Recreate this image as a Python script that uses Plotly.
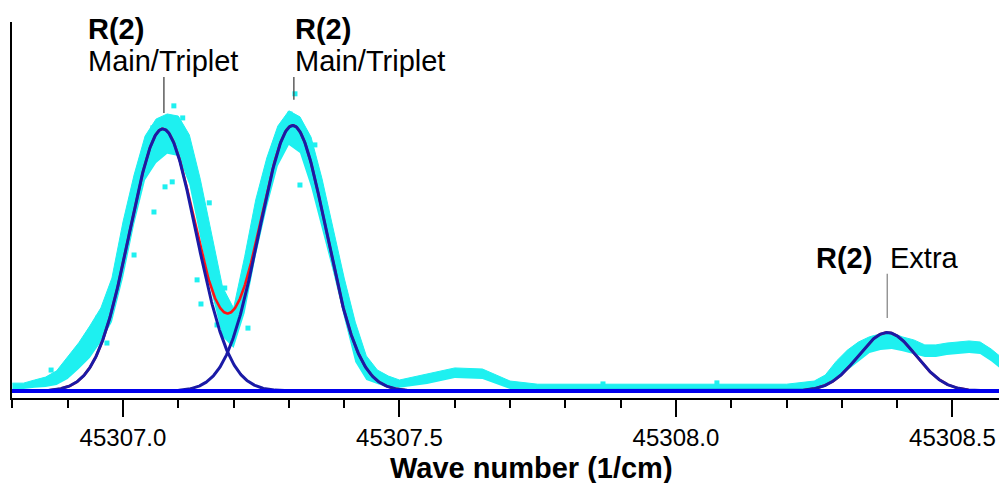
import numpy as np
import plotly.graph_objects as go

# ---------------- data ----------------
# measured spectrum: band centre and half-spread of the noisy points
wn = [45306.80, 45306.82, 45306.84, 45306.86, 45306.88, 45306.90, 45306.92, 45306.94,
      45306.96, 45306.98, 45307.00, 45307.02, 45307.04, 45307.06, 45307.08, 45307.10,
      45307.12, 45307.14, 45307.16, 45307.18, 45307.20, 45307.22, 45307.24, 45307.26,
      45307.28, 45307.30, 45307.32, 45307.34, 45307.36, 45307.38, 45307.40, 45307.42,
      45307.44, 45307.46, 45307.48, 45307.50, 45307.55, 45307.60, 45307.65, 45307.70,
      45307.75, 45307.80, 45307.85, 45307.90, 45307.95, 45308.00, 45308.05, 45308.10,
      45308.15, 45308.20, 45308.25, 45308.27, 45308.29, 45308.31, 45308.33, 45308.35,
      45308.37, 45308.39, 45308.41, 45308.43, 45308.45, 45308.47, 45308.49, 45308.51,
      45308.53, 45308.55, 45308.57, 45308.585]
signal = [1.9, 1.9, 2.7, 3.4, 5.0, 8.8, 13.4, 18.7,
          25.2, 34.7, 53.8, 72.9, 88.9, 95.4, 98.1, 97.3,
          88.2, 69.1, 49.2, 30.2, 24.0, 40.5, 62.2, 79.4,
          93.5, 100.4, 97.7, 87.4, 71.4, 53.8, 35.5, 18.7,
          8.8, 5.3, 3.4, 2.7, 4.6, 6.9, 6.5, 2.3,
          1.5, 1.5, 1.5, 1.5, 1.5, 1.5, 1.5, 1.5,
          1.5, 1.5, 2.3, 3.8, 8.0, 11.8, 14.9, 17.6,
          18.7, 19.1, 17.9, 16.8, 15.3, 15.3, 16.0, 16.4,
          16.8, 16.4, 13.7, 11.1]
spread = [1.1, 1.1, 1.5, 1.9, 2.7, 4.2, 5.0, 6.1,
          6.5, 8.4, 10.7, 9.5, 8.4, 8.4, 7.6, 7.6,
          9.5, 11.5, 11.5, 9.5, 7.6, 10.7, 10.7, 9.5,
          7.6, 6.5, 6.9, 9.5, 9.5, 8.4, 7.6, 7.6,
          4.6, 2.7, 2.3, 1.5, 1.9, 1.9, 1.9, 1.5,
          1.1, 1.1, 1.1, 1.1, 1.1, 1.1, 1.1, 1.1,
          1.1, 1.1, 1.5, 2.3, 3.4, 3.8, 3.8, 3.1,
          3.1, 3.1, 2.7, 2.7, 2.3, 2.3, 2.3, 2.3,
          2.3, 2.3, 2.3, 2.3]

# isolated measured points
pts_wn = [45307.092, 45307.076, 45307.056, 45307.089, 45307.020, 45306.971, 45306.955,
          45306.870, 45307.141, 45307.134, 45307.302, 45307.311, 45307.347, 45307.156,
          45307.184, 45307.170, 45307.226, 45307.320, 45307.407, 45307.054, 45307.108,
          45308.074, 45307.868]
pts_sig = [108.8, 77.9, 68.3, 79.8, 51.9, 18.3, 27.9,
           8.0, 33.2, 42.4, 105.7, 113.4, 93.9, 71.8,
           39.3, 25.2, 24.0, 78.6, 32.1, 100.4, 104.2,
           3.1, 2.7]

# Gaussian fit parameters
fit_center = [45307.072, 45307.307, 45308.382]
fit_height = [100.0, 101.3, 22.3]
fit_sigma = [0.060, 0.060, 0.052]

# ---------------- figure ----------------
x_min, x_max = 45306.7993, 45308.5841
y_min, y_max = -2.67, 140.8

lo = [s - d for s, d in zip(signal, spread)]
hi = [s + d for s, d in zip(signal, spread)]

CYAN = "#1ef0f0"
fig = go.Figure()
fig.add_trace(go.Scatter(x=wn, y=lo, mode="lines", line=dict(width=0, color=CYAN),
                         hoverinfo="skip", showlegend=False))
fig.add_trace(go.Scatter(x=wn, y=hi, mode="lines", line=dict(width=1, color=CYAN),
                         fill="tonexty", fillcolor=CYAN, showlegend=False))
fig.add_trace(go.Scatter(x=pts_wn, y=pts_sig, mode="markers",
                         marker=dict(symbol="square", size=5, color=CYAN),
                         showlegend=False))

xf = np.linspace(x_min, x_max, 1500)
comps = [h * np.exp(-(xf - c) ** 2 / (2 * s ** 2))
         for c, h, s in zip(fit_center, fit_height, fit_sigma)]
fig.add_trace(go.Scatter(x=xf, y=sum(comps), mode="lines",
                         line=dict(color="#ff1414", width=2.6), showlegend=False))
for comp in comps:
    fig.add_trace(go.Scatter(x=xf, y=comp, mode="lines",
                             line=dict(color="#1a1aa6", width=3), showlegend=False))
fig.add_trace(go.Scatter(x=[x_min, x_max], y=[0, 0], mode="lines",
                         line=dict(color="#0000ee", width=4), showlegend=False))

FONT = "Arial, Liberation Sans, sans-serif"
fig.update_layout(
    width=999, height=483,
    margin=dict(l=12, r=0, t=22, b=85),
    paper_bgcolor="white", plot_bgcolor="white",
    font=dict(family=FONT, color="black"),
    xaxis=dict(range=[x_min, x_max], showgrid=False, zeroline=False,
               showline=True, linecolor="black", linewidth=2,
               ticks="outside", ticklen=17, tickwidth=2, tickcolor="black",
               tick0=45307.0, dtick=0.5, tickformat=".1f",
               tickfont=dict(size=24, family=FONT, color="black"),
               minor=dict(ticks="outside", ticklen=8, tickwidth=2, tickcolor="black",
                          tick0=45307.0, dtick=0.1)),
    yaxis=dict(range=[y_min, y_max], showgrid=False, zeroline=False,
               showline=True, linecolor="black", linewidth=2,
               showticklabels=False, ticks=""),
)

# axis title
fig.add_annotation(text="<b>Wave number (1/cm)</b>", xref="paper", yref="paper",
                   x=0.526, y=-0.185, xanchor="center", yanchor="middle",
                   showarrow=False, font=dict(size=29, family=FONT, color="black"))

# peak labels
def label(text, x, y, bold=False):
    fig.add_annotation(text=f"<b>{text}</b>" if bold else text, x=x, y=y,
                       xref="x", yref="y", xanchor="left", yanchor="middle",
                       showarrow=False, font=dict(size=29, family=FONT, color="black"))

label("R(2)", 45306.9330, 138.0, bold=True)
label("Main/Triplet", 45306.9330, 126.0)
label("R(2)", 45307.3075, 138.0, bold=True)
label("Main/Triplet", 45307.3075, 126.0)
label("R(2)", 45308.2500, 50.6, bold=True)
label("Extra", 45308.3830, 50.6)

# leader lines
for xc, y0, y1, col in [(45307.074, 106.1, 119.8, "#444444"),
                        (45307.309, 111.1, 119.8, "#444444"),
                        (45308.382, 27.9, 44.7, "#888888")]:
    fig.add_shape(type="line", xref="x", yref="y", x0=xc, x1=xc, y0=y0, y1=y1,
                  line=dict(color=col, width=1.3))

fig.write_html("out.html")
